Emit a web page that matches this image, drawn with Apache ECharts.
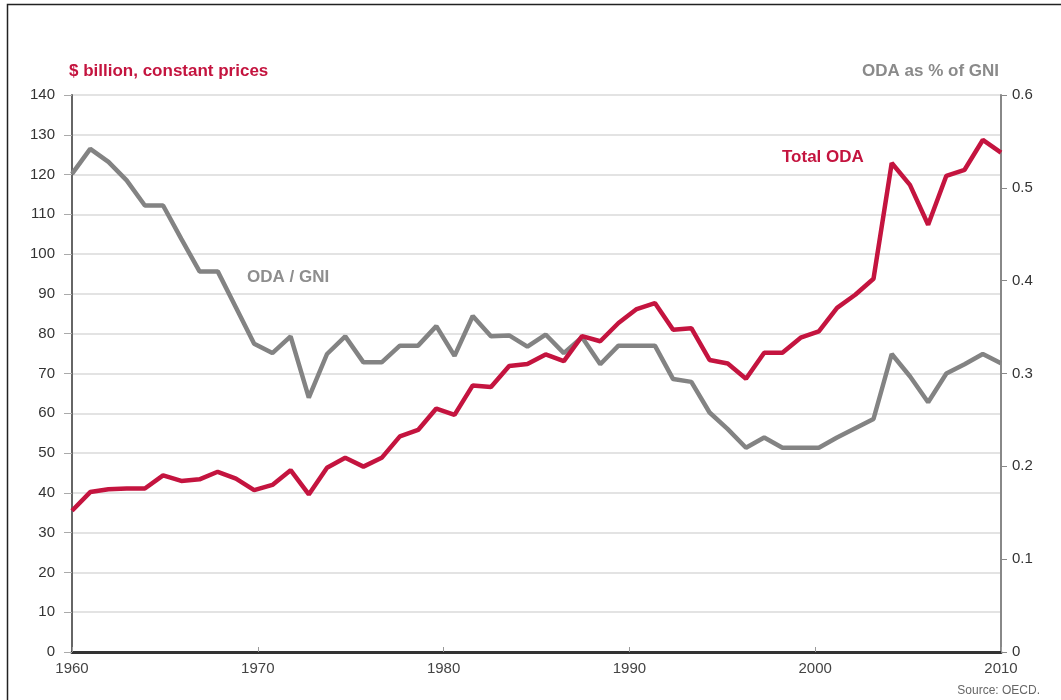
<!DOCTYPE html>
<html>
<head>
<meta charset="utf-8">
<title>Total ODA and ODA/GNI</title>
<script src="https://cdn.jsdelivr.net/npm/echarts@6/dist/echarts.min.js"></script>
<style>
  html, body { margin: 0; padding: 0; background: #fff; }
  #chart { width: 1061px; height: 700px; }
</style>
</head>
<body>
<div id="chart"></div>
<script>
// years of the data (1960 - 2011)
const years = [1960, 1961, 1962, 1963, 1964, 1965, 1966, 1967, 1968, 1969,
  1970, 1971, 1972, 1973, 1974, 1975, 1976, 1977, 1978, 1979,
  1980, 1981, 1982, 1983, 1984, 1985, 1986, 1987, 1988, 1989,
  1990, 1991, 1992, 1993, 1994, 1995, 1996, 1997, 1998, 1999,
  2000, 2001, 2002, 2003, 2004, 2005, 2006, 2007, 2008, 2009,
  2010, 2011];

// Total ODA, $ billion, constant prices
const totalOda = [35.5, 40.2, 40.9, 41.1, 41.1, 44.4, 43.0, 43.4, 45.3, 43.6,
  40.7, 42.0, 45.7, 39.6, 46.3, 48.8, 46.6, 48.8, 54.2, 55.8,
  61.2, 59.6, 67.0, 66.6, 71.9, 72.4, 74.8, 73.1, 79.4, 78.1,
  82.7, 86.2, 87.7, 81.0, 81.4, 73.4, 72.5, 68.7, 75.2, 75.2,
  79.0, 80.6, 86.5, 89.8, 93.8, 122.9, 117.4, 107.4, 119.7, 121.2,
  128.7, 125.5];

// ODA as % of GNI
const odaGni = [0.515, 0.542, 0.528, 0.508, 0.481, 0.481, 0.445, 0.410, 0.410, 0.371,
  0.332, 0.322, 0.340, 0.274, 0.321, 0.340, 0.312, 0.312, 0.330, 0.330,
  0.351, 0.319, 0.362, 0.340, 0.341, 0.329, 0.342, 0.322, 0.339, 0.310,
  0.330, 0.330, 0.330, 0.294, 0.291, 0.258, 0.240, 0.220, 0.231, 0.220,
  0.220, 0.220, 0.231, 0.241, 0.251, 0.321, 0.297, 0.269, 0.300, 0.310,
  0.321, 0.311];

// tick labels of the bottom axis
const xTicks = [1960, 1970, 1980, 1990, 2000, 2010];

const RED = '#c4143f';
const GREY = '#838383';
const FONT = "'Liberation Sans', Arial, sans-serif";

const chart = echarts.init(document.getElementById('chart'));
chart.setOption({
  animation: false,
  backgroundColor: '#fff',
  grid: { left: 72, right: 60, top: 95, bottom: 48 },
  graphic: [
    {
      type: 'rect',
      shape: { x: 7.5, y: 4.5, width: 1200, height: 900 },
      style: { fill: 'none', stroke: '#222', lineWidth: 1.5 },
      silent: true
    },
    {
      type: 'text', x: 69, y: 71,
      style: { text: '$ billion, constant prices', fill: RED, font: 'bold 17px ' + FONT, textVerticalAlign: 'middle' }
    },
    {
      type: 'text', x: 999, y: 71,
      style: { text: 'ODA as % of GNI', fill: '#8a8a8a', font: 'bold 17px ' + FONT, textAlign: 'right', textVerticalAlign: 'middle' }
    },
    {
      type: 'text', x: 782, y: 157,
      style: { text: 'Total ODA', fill: RED, font: 'bold 17px ' + FONT, textVerticalAlign: 'middle' }
    },
    {
      type: 'text', x: 247, y: 277,
      style: { text: 'ODA / GNI', fill: '#8e8e8e', font: 'bold 17px ' + FONT, textVerticalAlign: 'middle' }
    },
    {
      type: 'text', x: 1040, y: 691,
      style: { text: 'Source: OECD.', fill: '#666', font: '12px ' + FONT, textAlign: 'right', textVerticalAlign: 'middle' }
    }
  ],
  xAxis: [
    {
      // labelled axis, 1960 .. 2010
      type: 'value',
      min: xTicks[0],
      max: xTicks[xTicks.length - 1],
      interval: 10,
      axisLine: { lineStyle: { color: '#333', width: 3 } },
      axisTick: { inside: true, length: 5, lineStyle: { color: '#999' } },
      axisLabel: { formatter: v => String(v), color: '#444', fontSize: 15, fontFamily: FONT, margin: 9 },
      splitLine: { show: false }
    },
    {
      // data axis
      type: 'value',
      min: years[0],
      max: years[years.length - 1],
      show: false
    }
  ],
  yAxis: [
    {
      type: 'value',
      min: 0,
      max: 140,
      interval: 10,
      axisLine: { show: true, lineStyle: { color: '#666', width: 2 } },
      axisTick: { show: true, length: 8, lineStyle: { color: '#aaa' } },
      axisLabel: { color: '#333', fontSize: 15, fontFamily: FONT, margin: 17 },
      splitLine: { lineStyle: { color: '#e3e3e3', width: 2 } }
    },
    {
      type: 'value',
      position: 'right',
      min: 0,
      max: 0.6,
      interval: 0.1,
      axisLine: { show: true, lineStyle: { color: '#888', width: 2 } },
      axisTick: { show: true, length: 6, lineStyle: { color: '#888' } },
      axisLabel: { formatter: v => (v === 0 ? '0' : v.toFixed(1)), color: '#333', fontSize: 15, fontFamily: FONT, margin: 11 },
      splitLine: { show: false }
    }
  ],
  series: [
    {
      name: 'ODA / GNI',
      type: 'line',
      xAxisIndex: 1,
      yAxisIndex: 1,
      data: years.map((y, i) => [y, odaGni[i]]),
      symbol: 'none',
      lineStyle: { color: GREY, width: 4.5 },
      z: 2
    },
    {
      name: 'Total ODA',
      type: 'line',
      xAxisIndex: 1,
      yAxisIndex: 0,
      data: years.map((y, i) => [y, totalOda[i]]),
      symbol: 'none',
      lineStyle: { color: RED, width: 4.5 },
      z: 3
    }
  ]
});
</script>
</body>
</html>
